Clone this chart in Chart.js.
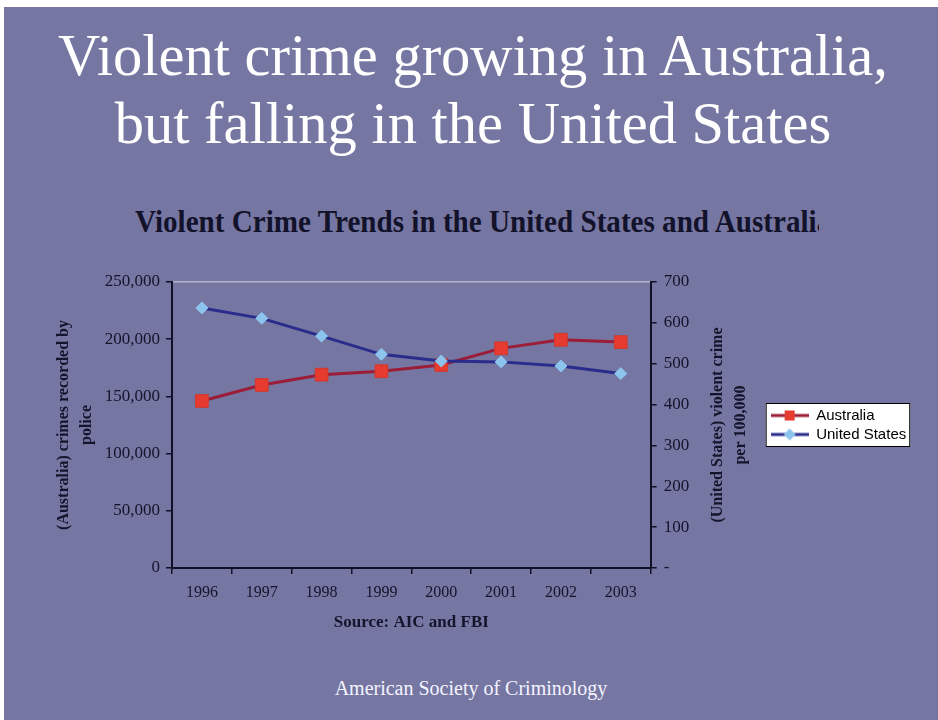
<!DOCTYPE html>
<html>
<head>
<meta charset="utf-8">
<script src="https://cdn.jsdelivr.net/npm/chart.js@4.4.1/dist/chart.umd.min.js"></script>
<style>
    html, body { margin: 0; padding: 0; background: #ffffff; }
    #slide { position: absolute; left: 4px; top: 7px; width: 934px; height: 713px; background: #7676a3; }
    #titulo { position: absolute; left: 0; top: 22px; width: 946px; text-align: center;
              font: 58.5px/68px "Liberation Serif", serif; color: #ffffff; }
    #subtitulo { position: absolute; left: 135px; top: 204px; width: 684px; height: 36px; overflow: hidden;
                 white-space: nowrap; font: bold 32px/34px "Liberation Serif", serif; color: #12122a; }
    #subtitulo span { display: inline-block; transform: scaleX(0.91); transform-origin: left center; }
    #rodape { position: absolute; left: 0; top: 676px; width: 942px; text-align: center;
              font: 20px/24px "Liberation Serif", serif; color: #f4f4ff; }
    #caixa { position: absolute; left: 40px; top: 262px; width: 890px; height: 378px; }
</style>
</head>
<body>
<div id="slide"></div>
<div id="titulo">Violent crime growing in Australia,<br>but falling in the United States</div>
<div id="subtitulo"><span>Violent Crime Trends in the United States and Australia</span></div>
<div id="caixa"><canvas id="grafico"></canvas></div>
<div id="rodape">American Society of Criminology</div>

<script>
// ===============================
// DADOS
// ===============================
const anos = ["1996", "1997", "1998", "1999", "2000", "2001", "2002", "2003"];
const australia = [146000, 160000, 169000, 172000, 177500, 192000, 199500, 197500];
const estadosUnidos = [636.6, 611.0, 567.6, 523.0, 506.5, 504.5, 494.4, 475.8];
const nomesSeries = ["Australia", "United States"];

const tituloEsq = ["(Australia) crimes recorded by", "police"];
const tituloDir = ["(United States) violent crime", "per 100,000"];
const tituloX = "Source: AIC and FBI";

const maxEsq = 250000, passoEsq = 50000;
const maxDir = 700, passoDir = 100;

// ===============================
// ESTILO
// ===============================
const serif = "'Liberation Serif', 'Times New Roman', serif";
const texto = "#14142c";
const escuro = "#101028";
const clara = "#b4b4cc";
const corAus = "#9c1d38", marcaAus = "#e63b2e";
const corEua = "#2a2c8c", marcaEua = "#8cc4ee";

// marcador da legenda: linha com o simbolo no meio
function marcaLegenda(corLinha, corMarca, forma) {
    const c = document.createElement("canvas");
    c.width = 38; c.height = 14;
    const g = c.getContext("2d");
    g.strokeStyle = corLinha; g.lineWidth = 3;
    g.beginPath(); g.moveTo(0, 7); g.lineTo(38, 7); g.stroke();
    g.fillStyle = corMarca;
    if (forma === "rect") {
        g.fillRect(14, 2, 10, 10);
    } else {
        g.beginPath();
        g.moveTo(19, 1); g.lineTo(25, 7); g.lineTo(19, 13); g.lineTo(13, 7);
        g.closePath(); g.fill();
    }
    return c;
}
const imagensLegenda = [marcaLegenda(corAus, marcaAus, "rect"), marcaLegenda(corEua, marcaEua, "diamond")];

// caixa branca da legenda + titulo do eixo direito (lido de baixo para cima)
const extras = {
    id: "extras",
    beforeDraw(chart) {
        const caixas = chart.legend && chart.legend.legendHitBoxes;
        if (!caixas || !caixas.length) return;
        const esq = Math.min(...caixas.map(b => b.left)) - 5;
        const dir = Math.max(...caixas.map(b => b.left + b.width)) + 4;
        const topo = Math.min(...caixas.map(b => b.top)) - 5;
        const base = Math.max(...caixas.map(b => b.top + b.height)) + 5;
        const ctx = chart.ctx;
        ctx.save();
        ctx.fillStyle = "#ffffff";
        ctx.fillRect(esq, topo, dir - esq, base - topo);
        ctx.strokeStyle = "#000000";
        ctx.lineWidth = 1;
        ctx.strokeRect(esq + 0.5, topo + 0.5, dir - esq - 1, base - topo - 1);
        ctx.restore();
    },
    afterDraw(chart) {
        const area = chart.chartArea;
        const ctx = chart.ctx;
        ctx.save();
        ctx.translate(area.right + 67, (area.top + area.bottom) / 2);
        ctx.rotate(-Math.PI / 2);
        ctx.fillStyle = texto;
        ctx.font = "bold 16px " + serif;
        ctx.textAlign = "center";
        ctx.textBaseline = "middle";
        tituloDir.forEach((linha, i) => ctx.fillText(linha, 0, i * 23));
        ctx.restore();
    }
};

new Chart(document.getElementById("grafico"), {
    type: "line",
    data: {
        labels: anos,
        datasets: [{
            label: nomesSeries[0],
            data: australia,
            yAxisID: "y",
            order: 1,
            borderColor: corAus,
            borderWidth: 3,
            pointStyle: "rect",
            pointRadius: 9,
            pointBackgroundColor: marcaAus,
            pointBorderColor: "#d0392f",
            pointBorderWidth: 1,
            tension: 0
        }, {
            label: nomesSeries[1],
            data: estadosUnidos,
            yAxisID: "y1",
            order: 0,
            borderColor: corEua,
            borderWidth: 3,
            pointStyle: "rectRot",
            pointRadius: 6,
            pointBackgroundColor: marcaEua,
            pointBorderColor: marcaEua,
            pointBorderWidth: 1,
            tension: 0
        }]
    },
    options: {
        responsive: true,
        maintainAspectRatio: false,
        animation: false,
        layout: { padding: { top: 20, right: 18, left: 0, bottom: 0 } },
        plugins: {
            title: { display: false },
            tooltip: { enabled: false },
            legend: {
                position: "right",
                fullSize: false,
                labels: {
                    usePointStyle: true,
                    pointStyleWidth: 38,
                    padding: 4,
                    color: "#000000",
                    font: { family: "'Liberation Sans', Arial, sans-serif", size: 15 },
                    sort: (a, b) => a.datasetIndex - b.datasetIndex,
                    generateLabels(chart) {
                        const itens = Chart.defaults.plugins.legend.labels.generateLabels(chart);
                        itens.forEach(it => { it.pointStyle = imagensLegenda[it.datasetIndex]; });
                        return itens;
                    }
                }
            }
        },
        scales: {
            x: {
                offset: true,
                grid: { offset: true, drawOnChartArea: false, tickLength: 6, color: escuro, lineWidth: 1.5 },
                border: { color: escuro, width: 2 },
                ticks: { color: texto, font: { family: serif, size: 16 }, padding: 9, maxRotation: 0 },
                title: { display: true, text: tituloX, color: texto,
                         font: { family: serif, size: 17, weight: "bold" }, padding: { top: 6, bottom: 7 } },
                afterFit: s => { s.height = 72; }
            },
            y: {
                position: "left",
                min: 0,
                max: maxEsq,
                grid: {
                    color: ctx => ctx.tick && ctx.tick.value === maxEsq ? clara : "rgba(0,0,0,0)",
                    tickColor: escuro,
                    tickLength: 6,
                    lineWidth: 1.5
                },
                border: { color: escuro, width: 2 },
                ticks: {
                    stepSize: passoEsq,
                    color: texto,
                    padding: 6,
                    font: { family: serif, size: 17 },
                    callback: v => v.toLocaleString("en-US")
                },
                title: { display: true, text: tituloEsq, color: texto,
                         font: { family: serif, size: 16, weight: "bold", lineHeight: 1.45 }, padding: { top: 12, bottom: 0 } },
                afterFit: s => { s.width = 132; }
            },
            y1: {
                position: "right",
                min: 0,
                max: maxDir,
                grid: { drawOnChartArea: false, tickColor: escuro, tickLength: 6, lineWidth: 1.5 },
                border: { color: escuro, width: 2 },
                ticks: {
                    stepSize: passoDir,
                    color: texto,
                    padding: 7,
                    font: { family: serif, size: 17 },
                    callback: v => v === 0 ? "-" : v
                },
                afterFit: s => { s.width = 116; }
            }
        }
    },
    plugins: [extras]
});
</script>
</body>
</html>
